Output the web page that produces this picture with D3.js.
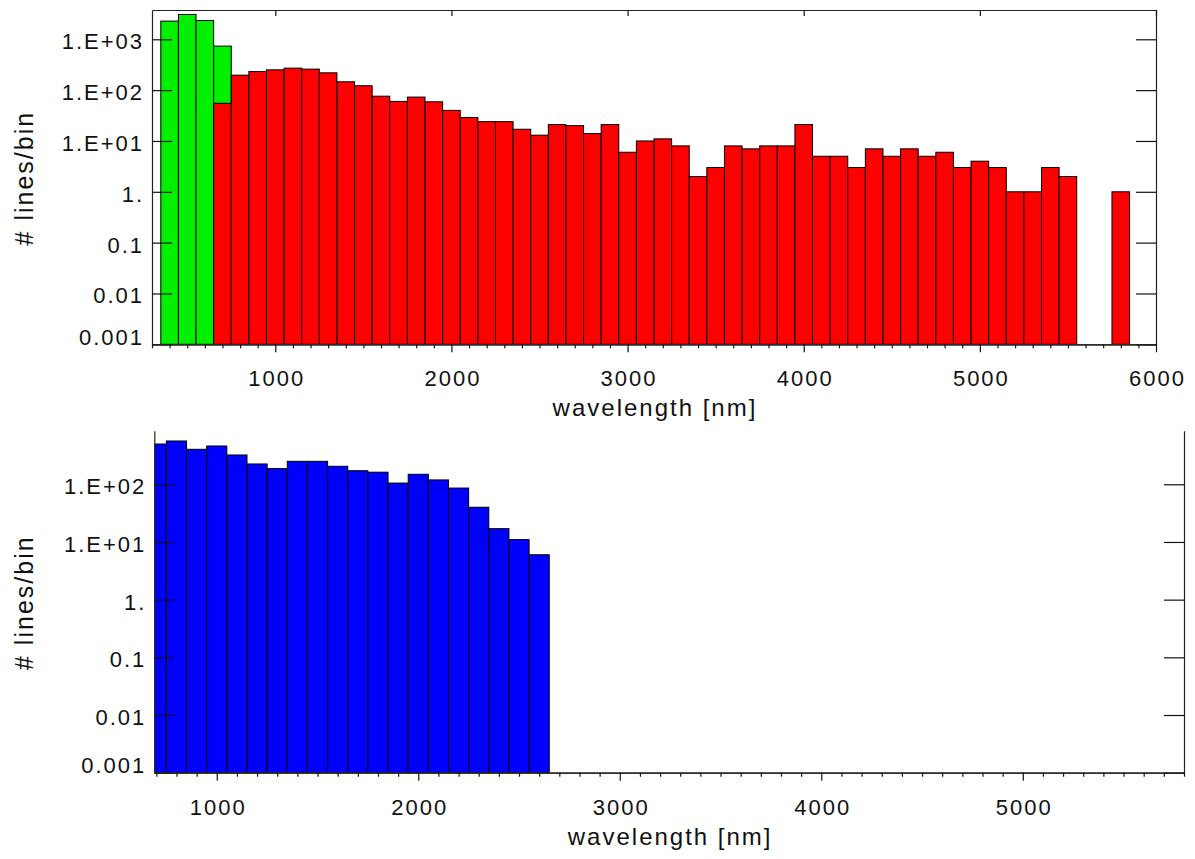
<!DOCTYPE html>
<html>
<head>
<meta charset="utf-8">
<script src="https://cdn.jsdelivr.net/npm/d3@7"></script>
<style>
  body { margin: 0; background: #fff; }
  text { font-family: "Liberation Sans", Arial, sans-serif; fill: #111; }
</style>
</head>
<body>
<div id="chart"></div>
<script>
// histogram of lines per 100 nm bin (lower bin edge in nm)
const binWidth = 100;

const greenBins = [350, 450, 550, 650];
const greenCounts = [2280, 3080, 2345, 735];

const redBins = [650, 750, 850, 950, 1050, 1150, 1250, 1350, 1450, 1550,
                 1650, 1750, 1850, 1950, 2050, 2150, 2250, 2350, 2450, 2550,
                 2650, 2750, 2850, 2950, 3050, 3150, 3250, 3350, 3450, 3550,
                 3650, 3750, 3850, 3950, 4050, 4150, 4250, 4350, 4450, 4550,
                 4650, 4750, 4850, 4950, 5050, 5150, 5250, 5350, 5450, 5550,
                 5650, 5750];
const redCounts = [55, 197, 232, 251, 271, 259, 219, 146, 122, 76,
                   60, 73, 59, 40, 29, 24, 24, 17, 13, 21,
                   20, 14, 21, 6, 10, 11, 8, 2, 3, 8,
                   7, 8, 8, 21, 5, 5, 3, 7, 5, 7,
                   5, 6, 3, 4, 3, 1, 1, 3, 2, 0,
                   0, 1];

const blueBins = [650, 750, 850, 950, 1050, 1150, 1250, 1350, 1450, 1550,
                  1650, 1750, 1850, 1950, 2050, 2150, 2250, 2350, 2450, 2550];
const blueCounts = [499, 563, 404, 461, 322, 225, 187, 250, 250, 205,
                    172, 162, 105, 149, 119, 86, 40, 17, 11, 6];

const yTickValues = [0.001, 0.01, 0.1, 1, 10, 100, 1000];
const yTickLabels = ["0.001", "0.01", "0.1", "1.", "1.E+01", "1.E+02", "1.E+03"];
const topXTicks = [1000, 2000, 3000, 4000, 5000, 6000];
const bottomXTicks = [1000, 2000, 3000, 4000, 5000];

const W = 1195, H = 859;

const svg = d3.select("#chart").append("svg")
    .attr("width", W)
    .attr("height", H)
    .style("background", "#fff");

const panels = [
    {
        id: "top",
        xDomain: [300, 6000], xRange: [152, 1156],
        yDomain: [0.001, 3770], yRange: [344.3, 10],
        xTicks: topXTicks, topAxis: true,
        series: [
            { bins: greenBins, counts: greenCounts, color: "#00f000" },
            { bins: redBins, counts: redCounts, color: "#ff0000" }
        ]
    },
    {
        id: "bottom",
        xDomain: [690, 5800], xRange: [154.3, 1184],
        yDomain: [0.001, 849], yRange: [772.7, 430.7],
        xTicks: bottomXTicks, topAxis: false,
        series: [
            { bins: blueBins, counts: blueCounts, color: "#0000ff" }
        ]
    }
];

panels.forEach(drawPanel);

function drawPanel(p) {
    const x = d3.scaleLinear().domain(p.xDomain).range(p.xRange);
    const y = d3.scaleLog().domain(p.yDomain).range(p.yRange);
    const [x0, x1] = p.xRange;
    const [yb, yt] = p.yRange;

    const defs = svg.append("defs");
    defs.append("clipPath").attr("id", "clip-" + p.id)
        .append("rect")
        .attr("x", x0).attr("y", yt)
        .attr("width", x1 - x0).attr("height", yb - yt);

    const g = svg.append("g").attr("clip-path", `url(#clip-${p.id})`);

    // bars
    p.series.forEach(s => {
        const data = s.bins.map((b, i) => ({ lo: b, hi: b + binWidth, n: s.counts[i] }));
        g.append("g").selectAll("rect")
            .data(data)
            .enter()
            .append("rect")
            .attr("x", d => x(d.lo))
            .attr("width", d => x(d.hi) - x(d.lo))
            .attr("y", d => d.n > 0 ? y(d.n) : yb)
            .attr("height", d => d.n > 0 ? yb - y(d.n) : 0)
            .attr("fill", s.color)
            .attr("stroke", "#000")
            .attr("stroke-width", 1);
    });

    const ticks = yTickValues.filter(v => v <= p.yDomain[1]);
    const labelOf = v => yTickLabels[yTickValues.indexOf(v)];

    // left axis
    const left = svg.append("g")
        .attr("transform", `translate(${x0},0)`)
        .call(d3.axisLeft(y).tickValues(ticks).tickFormat(labelOf)
            .tickSize(-20).tickSizeOuter(0).tickPadding(8));
    styleAxis(left);
    left.selectAll("text")
        .attr("font-size", 22)
        .attr("letter-spacing", "2px")
        .attr("dy", d => d === 0.001 ? "0em" : "0.43em");

    // right axis
    const right = svg.append("g")
        .attr("transform", `translate(${x1},0)`)
        .call(d3.axisRight(y).tickValues(ticks).tickFormat("")
            .tickSize(-20).tickSizeOuter(0));
    styleAxis(right);

    // bottom axis: minor ticks every 100 nm, major every 1000 nm
    const minor = d3.range(Math.ceil(p.xDomain[0] / 100) * 100, p.xDomain[1] + 1, 100)
        .filter(v => v % 1000 !== 0);
    const bottomMinor = svg.append("g")
        .attr("transform", `translate(0,${yb})`)
        .call(d3.axisBottom(x).tickValues(minor).tickFormat("").tickSize(4).tickSizeOuter(0));
    styleAxis(bottomMinor);

    const bottomMajor = svg.append("g")
        .attr("transform", `translate(0,${yb})`)
        .call(d3.axisBottom(x).tickValues(p.xTicks).tickFormat(d => d).tickSize(8).tickSizeOuter(0));
    styleAxis(bottomMajor);
    bottomMajor.selectAll("text")
        .attr("font-size", 22)
        .attr("letter-spacing", "2px")
        .attr("dx", 1)
        .attr("y", 42)
        .attr("dy", 0);

    if (p.topAxis) {
        const top = svg.append("g")
            .attr("transform", `translate(0,${yt})`)
            .call(d3.axisTop(x).tickValues(p.xTicks).tickFormat("").tickSize(-6).tickSizeOuter(0));
        styleAxis(top);
    }

    // axis titles
    svg.append("text")
        .attr("x", (x0 + x1) / 2 + 1)
        .attr("y", yb + 72)
        .attr("text-anchor", "middle")
        .attr("font-size", 24)
        .attr("letter-spacing", "2px")
        .text("wavelength [nm]");

    svg.append("text")
        .attr("transform", `translate(33,${(yb + yt) / 2 + 1}) rotate(-90)`)
        .attr("text-anchor", "middle")
        .attr("font-size", 25)
        .attr("letter-spacing", "2px")
        .text("# lines/bin");
}

function styleAxis(sel) {
    sel.attr("font-family", null).attr("font-size", null);
    sel.select(".domain").attr("stroke", "#222").attr("stroke-width", 1.2);
    sel.selectAll(".tick line").attr("stroke", "#111").attr("stroke-width", 1.2);
    sel.selectAll(".tick text").attr("fill", "#111");
}
</script>
</body>
</html>
